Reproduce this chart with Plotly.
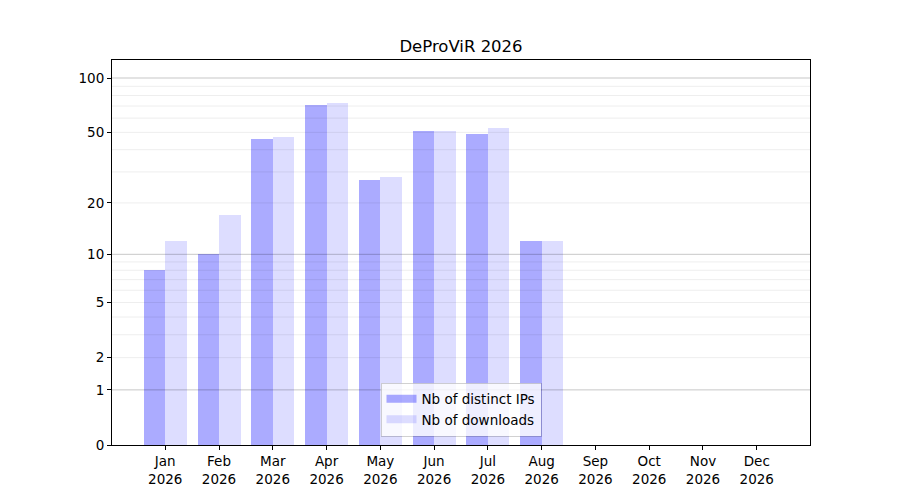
import numpy as np
import plotly.graph_objects as go

months = ["Jan", "Feb", "Mar", "Apr", "May", "Jun", "Jul", "Aug", "Sep", "Oct", "Nov", "Dec"]
year = "2026"
distinct_ips = [8, 10, 46, 71, 27, 51, 49, 12, 0, 0, 0, 0]
downloads = [12, 17, 47, 73, 28, 51, 53, 12, 0, 0, 0, 0]
major_ticks = [0, 1, 2, 5, 10, 20, 50, 100]
dark_grid = [1, 10, 100]
light_grid = [2, 5, 20, 50, 3, 4, 6, 7, 8, 9, 30, 40, 60, 70, 80, 90]

ip_color = "rgba(0,0,255,0.33)"
dl_color = "rgba(0,0,255,0.135)"


def f(v):
    return np.log10(1 + np.asarray(v, dtype=float))


x = np.arange(len(months))
fig = go.Figure()
fig.add_trace(go.Bar(x=x - 0.2, y=f(distinct_ips), width=0.4, name="Nb of distinct IPs",
                     marker=dict(color=ip_color, line=dict(width=0)), showlegend=False,
                     customdata=distinct_ips, hovertemplate="%{customdata}"))
fig.add_trace(go.Bar(x=x + 0.2, y=f(downloads), width=0.4, name="Nb of downloads",
                     marker=dict(color=dl_color, line=dict(width=0)), showlegend=False,
                     customdata=downloads, hovertemplate="%{customdata}"))
# legend-only entries with wide rectangular handles
fig.add_trace(go.Scatter(x=[None], y=[None], mode="lines", name="Nb of distinct IPs",
                         line=dict(color=ip_color, width=8)))
fig.add_trace(go.Scatter(x=[None], y=[None], mode="lines", name="Nb of downloads",
                         line=dict(color=dl_color, width=8)))

shapes = []
for v in light_grid:
    shapes.append(dict(type="line", xref="paper", yref="y", x0=0, x1=1, y0=float(f(v)), y1=float(f(v)),
                       line=dict(color="rgba(0,0,0,0.07)", width=1), layer="above"))
for v in dark_grid:
    shapes.append(dict(type="line", xref="paper", yref="y", x0=0, x1=1, y0=float(f(v)), y1=float(f(v)),
                       line=dict(color="rgba(0,0,0,0.22)", width=1), layer="above"))

font = "DejaVu Sans"
fig.update_layout(
    width=900, height=500,
    margin=dict(l=104, r=98, t=52, b=63),
    paper_bgcolor="white", plot_bgcolor="white",
    font=dict(family=font, size=13.5, color="black"),
    title=dict(text="DeProViR 2026", x=0.5, xref="paper", xanchor="center",
               y=1 - 38 / 500, yref="container", yanchor="middle",
               font=dict(family=font, size=16.5, color="black")),
    barmode="overlay",
    bargap=0,
    shapes=shapes,
    showlegend=True,
    legend=dict(x=0.5, xanchor="center", y=0.022, yanchor="bottom",
                bgcolor="rgba(255,255,255,0.8)", bordercolor="rgba(0,0,0,0.18)", borderwidth=1,
                font=dict(family=font, size=13.5), tracegroupgap=0),
    xaxis=dict(range=[-0.99, 11.99], tickvals=list(x),
               ticktext=[f"{m}<br>{year}" for m in months],
               showgrid=False, zeroline=False, showline=True, linecolor="black", linewidth=1,
               mirror=True, ticks="outside", ticklen=4, tickcolor="black"),
    yaxis=dict(range=[0, 2.1027], tickvals=[float(v) for v in f(major_ticks)],
               ticktext=[str(t) for t in major_ticks],
               showgrid=False, zeroline=False, showline=True, linecolor="black", linewidth=1,
               mirror=True, ticks="outside", ticklen=4, tickcolor="black"),
)
fig.write_html("out.html")
